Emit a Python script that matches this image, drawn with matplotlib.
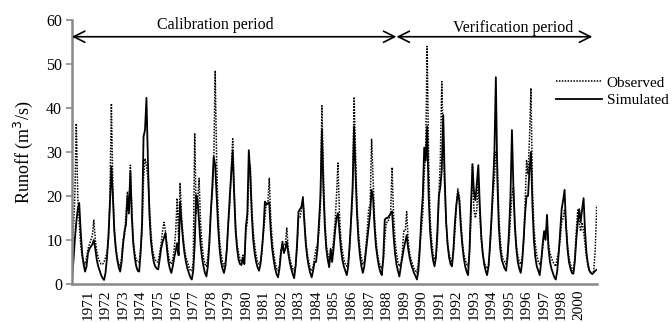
import numpy as np
from matplotlib import pyplot as plt

plt.rcParams['font.family'] = ['Liberation Serif', 'DejaVu Serif']

# monthly runoff (m3/s), one row per year
observed = [
    [7, 12, 20, 36.5, 20, 14, 9, 6, 5, 4.5, 6, 8],
    [9, 10, 11, 14.5, 10, 7.5, 6, 5, 4.5, 4.5, 5, 6],
    [7, 10, 20, 41, 22, 13, 8.5, 6, 4.5, 4, 6, 10],
    [11, 16, 21, 18, 27, 17, 10, 7, 5.5, 5, 5, 8],
    [12, 24, 28.5, 27, 24, 18, 12, 8, 6.5, 5.5, 5, 5],
    [7, 9, 12, 14, 12, 9, 6.5, 5, 4.5, 5.5, 8, 12],
    [19.5, 10, 23, 15, 11, 8, 6, 5, 4, 3, 3, 5],
    [34.3, 16, 19, 24, 14, 9, 6, 4.5, 4, 6, 10, 17],
    [20, 27, 48.5, 28, 16, 10, 7, 5, 4, 5, 8, 14],
    [18, 26, 33, 22, 13, 9, 7, 5.5, 5, 6.5, 6, 12],
    [14, 24, 27, 18, 12, 9, 6.5, 5, 4.5, 5, 7, 12],
    [15, 18.5, 18, 24, 15, 10, 7, 5, 3.5, 3, 4, 8],
    [8, 9, 9, 12.7, 8, 6, 4.5, 3.5, 3, 4, 8, 15],
    [15, 17, 19.8, 15, 10, 7, 5, 3.5, 3, 4, 6, 8],
    [9, 12, 18, 40.5, 26, 15, 9, 7, 5, 5.5, 7, 10],
    [14, 20, 27.5, 16, 10, 7.5, 5.5, 4.5, 4, 5, 8, 14],
    [20, 42.5, 30, 18, 12, 8, 6, 4.5, 5, 8, 12, 17],
    [18, 33, 24, 15, 10, 7, 5, 4, 3.5, 5, 10, 14],
    [14, 15, 16, 26.5, 16, 10, 7, 5, 4, 4.5, 7, 12],
    [12, 16.4, 10, 7, 5.5, 4.5, 3.5, 3, 2.5, 5, 9, 12],
    [16, 25, 30, 54, 28, 15, 10, 7, 5.5, 6, 10, 20],
    [28, 46, 33, 22, 14, 9, 7, 5.5, 5, 7, 12, 18],
    [21.6, 20, 15, 10, 7, 5.5, 4.5, 4, 7, 15, 27.5, 17],
    [15, 17, 24, 16, 10, 7, 5, 4, 3.5, 4, 8, 14],
    [20, 24, 30, 28, 16, 10, 7, 5.5, 5, 4.5, 7, 10],
    [15, 20, 22, 14, 9, 6.5, 5, 4.5, 6, 10, 18, 28],
    [25, 33, 44.5, 22, 13, 9, 6.5, 5, 4.5, 5.5, 8, 11],
    [12, 13, 9, 7, 6, 5, 4.5, 4, 6, 7.5, 10, 14],
    [15, 17, 14, 9, 6, 4.5, 3.5, 3, 6, 12, 16.8, 14],
    [12, 14, 12, 9, 6, 4, 3, 2.5, 2.2, 3, 8, 17.9],
]
simulated = [
    [0.5, 5, 10, 14, 17, 18.4, 12, 7, 4.5, 2.8, 4, 7],
    [8, 8.5, 9, 10, 8, 5.5, 4, 3, 2, 1.3, 0.9, 2.5],
    [6, 11, 18, 26.7, 20, 12, 8, 5.5, 3.8, 2.8, 5, 9],
    [12, 13.5, 20, 16, 25.5, 15, 9, 6, 4, 3, 2.8, 7],
    [14, 33.5, 35, 42.3, 28, 16, 10, 7, 5, 4, 3.5, 3.3],
    [5.5, 8, 9.5, 10.5, 11.6, 8, 5, 3.5, 2.5, 4, 6, 7.5],
    [9.3, 6.5, 18.7, 14, 10, 7, 5, 3.5, 2.5, 1.5, 1, 3],
    [9, 20.2, 19, 14, 9, 6, 4, 2.5, 1.7, 4, 9, 16],
    [22, 28.9, 27, 20, 13, 8, 5, 3.5, 2.5, 4, 8, 14],
    [20, 25, 30.2, 20, 12, 8, 5.5, 4.5, 4.3, 6, 4.5, 13],
    [16, 30.4, 25, 16, 10, 7, 5, 3.8, 3, 4.5, 8, 12],
    [18.7, 18, 18.3, 18.5, 12, 8, 5.5, 3.5, 2.2, 1.5, 3.5, 7],
    [9.6, 7, 8, 9.6, 7, 5, 3.5, 2.3, 1.3, 4, 9, 16.4],
    [17, 17.5, 19.5, 14, 9, 6, 4, 2.5, 1.5, 3, 5, 5],
    [8, 14, 20, 35, 22, 13, 8, 5.5, 3.8, 8, 5, 8],
    [12, 15, 16.1, 12, 8, 5.5, 4, 3, 2, 4, 9, 15],
    [22, 35.8, 25, 16, 10, 6.5, 4, 2.5, 4, 7, 10, 13],
    [16, 21.4, 19.6, 13, 8.5, 6, 4, 2.7, 2, 6, 14.6, 15],
    [15, 15.5, 16, 16.5, 11, 7, 4.5, 3, 1.7, 4, 6, 8],
    [9.5, 11.1, 8, 6, 4.5, 3.5, 2.5, 1.8, 1, 3, 8, 15],
    [20, 31, 28, 35.8, 20, 12, 8, 5.5, 4, 6, 12, 20],
    [22, 26, 38.4, 24, 14, 9, 6, 4.5, 4, 8, 14, 18],
    [20.7, 19, 13, 9, 6, 4, 2.8, 2, 8, 18, 27, 21],
    [19, 23, 27, 18, 11, 7, 4.5, 3, 2, 4, 9, 15],
    [22, 30, 47, 24, 13, 8, 5.5, 4.5, 3.5, 3, 6, 12],
    [20, 35, 22, 13, 8, 5, 3.5, 2.5, 5, 10, 16, 20],
    [20, 26, 30, 18, 10, 6, 4, 3, 2, 5, 9, 12],
    [10, 15.7, 8, 5, 3.5, 2.5, 1.5, 1, 3, 7, 12, 17],
    [19, 21.4, 13, 8, 5, 3.5, 2.5, 2.3, 5, 10, 14, 17],
    [14, 17, 19.5, 12, 7, 4.5, 3, 2.5, 2.3, 2.6, 3, 3.2],
]
year_labels = [str(y) for y in range(1971, 1999)] + ['2000']

obs = np.array(observed, dtype=float).ravel()
sim = np.array(simulated, dtype=float).ravel()
months = np.arange(len(obs))
split = 222  # month where calibration ends

fig = plt.figure(figsize=(6.72, 3.23), dpi=100)
ax = fig.add_axes([0.107, 0.121, 0.781, 0.817])

ax.plot(months, obs, color='black', lw=1.1, ls=(0, (1, 0.9)), label='Observed')
ax.plot(months, sim, color='black', lw=1.3, label='Simulated')

ax.set_xlim(0, len(obs) - 1)
ax.set_ylim(0, 60)
ax.set_yticks(range(0, 61, 10))
ax.set_xticks(np.arange(len(year_labels)) * 12 + 11)
ax.set_xticklabels(year_labels, rotation=90, fontsize=11)
ax.tick_params(axis='x', length=0, pad=4)
ax.tick_params(axis='y', direction='out', length=4, width=1.2, color='#888888',
               labelsize=11.5, pad=3)

for side in ['top', 'right']:
    ax.spines[side].set_visible(False)
for side in ['left', 'bottom']:
    ax.spines[side].set_color('#888888')
    ax.spines[side].set_linewidth(1.8)

ax.set_ylabel('Runoff (m$^3$/s)', fontsize=13, labelpad=8)

arrow = dict(arrowstyle='<->,head_length=0.8,head_width=0.4', color='black',
             lw=1.2, shrinkA=0, shrinkB=0, mutation_scale=10)
ax.annotate('', xy=(0, 56.2), xytext=(split, 56.2), arrowprops=arrow)
ax.annotate('', xy=(split, 56.2), xytext=(356, 56.2), arrowprops=arrow)
ax.text(98, 58.9, 'Calibration period', ha='center', va='center', fontsize=11.5)
ax.text(302, 58.3, 'Verification period', ha='center', va='center', fontsize=11.5)

ax.legend(loc='upper left', bbox_to_anchor=(0.828, 0.765), bbox_transform=fig.transFigure,
          frameon=False, fontsize=11, handlelength=3.0, handletextpad=0.3,
          labelspacing=0.25, borderpad=0, borderaxespad=0)

fig.savefig('out.png', dpi=100)
